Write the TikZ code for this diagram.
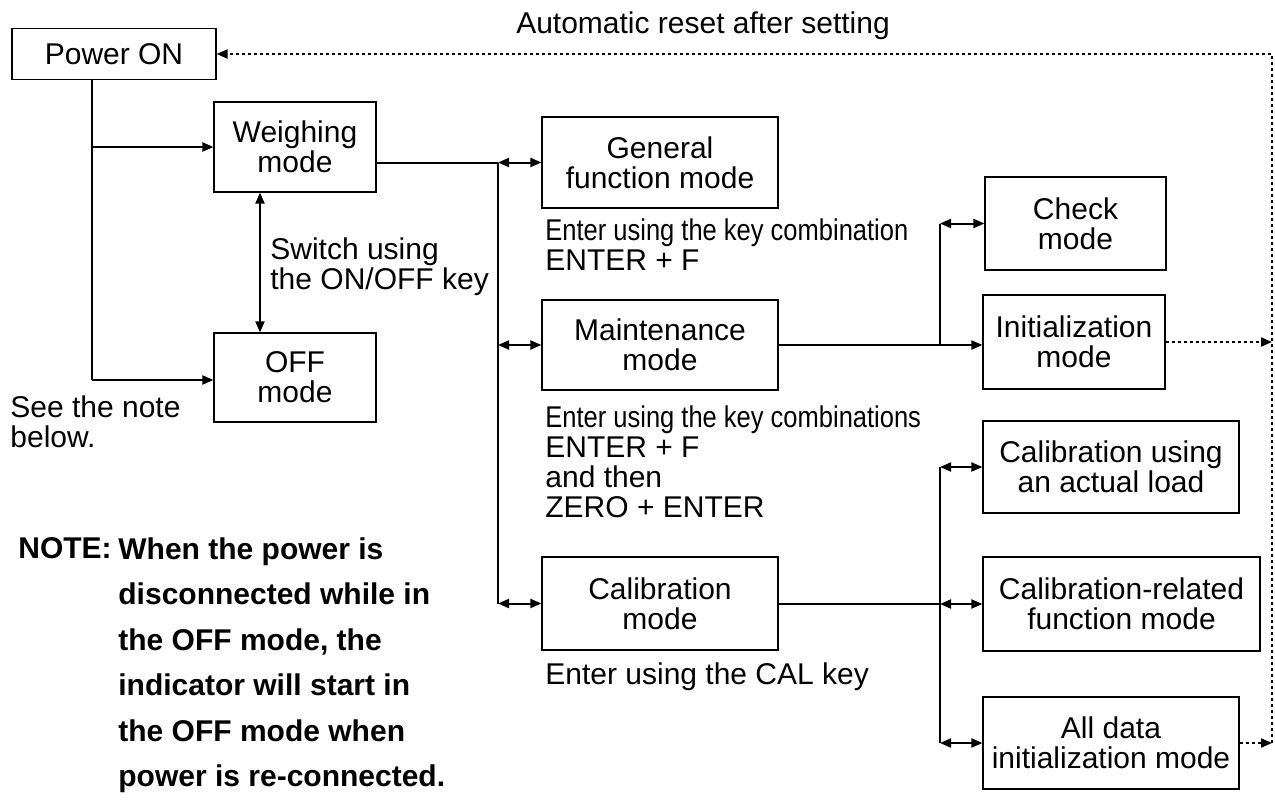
\documentclass[tikz,border=0pt]{standalone}
\usepackage{fontspec}
\setmainfont{Liberation Sans}
\usepackage{graphicx}
\usetikzlibrary{arrows.meta}

\newcommand{\squeezed}[1]{\scalebox{0.85}[1]{#1}}

\tikzset{
    box/.style={draw, line width=0.6pt, inner sep=0pt, align=center},
    remark/.style={inner sep=0pt, align=left, anchor=north west},
    conn/.style={line width=1pt},
    branch/.style={line width=0.6pt},
    reset/.style={line width=1pt, dash pattern=on 1.6pt off 1.4pt},
    notefont/.style={font=\fontsize{15}{22.75}\selectfont\bfseries}
}

\begin{document}
\begin{tikzpicture}[x=0.5pt,y=-0.5pt,>={Triangle[length=5.5pt,width=4.5pt]},
    font=\fontsize{15}{15}\selectfont]
    \useasboundingbox (0,0) rectangle (1275,803);

    % mode boxes
    \node[box, minimum width=102pt, minimum height=25.5pt] (pwr) at (114,54) {Power ON};
    \node[box, minimum width=81pt, minimum height=45pt] (weigh) at (295,147) {Weighing\\mode};
    \node[box, minimum width=81pt, minimum height=44.5pt] (off) at (295,377.5) {OFF\\mode};
    \node[box, minimum width=118pt, minimum height=45.5pt] (gen) at (660,162.5) {General\\function mode};
    \node[box, minimum width=118pt, minimum height=45pt] (maint) at (660,345) {Maintenance\\mode};
    \node[box, minimum width=118pt, minimum height=46.5pt] (calib) at (660,603.5) {Calibration\\mode};
    \node[box, minimum width=90.5pt, minimum height=46.5pt] (check) at (1075.5,223.5) {Check\\mode};
    \node[box, minimum width=91pt, minimum height=47pt] (init) at (1074,342) {Initialization\\mode};
    \node[box, minimum width=128pt, minimum height=46pt] (calload) at (1111,467) {Calibration using\\an actual load};
    \node[box, minimum width=138.5pt, minimum height=47pt] (calfunc) at (1121.5,604) {Calibration-related\\function mode};
    \node[box, minimum width=128pt, minimum height=46pt] (alldata) at (1111,743) {All data\\initialization mode};

    % junctions
    \coordinate (trunk) at (92,380);
    \coordinate (sw) at (260,260);
    \coordinate (bus) at (498,162.5);
    \coordinate (mbus) at (940,345);
    \coordinate (cbus) at (940,603.5);
    \coordinate (rr) at (1272,54);

    % power on -> weighing / off
    \draw[conn] (pwr.south -| trunk) -- (trunk);
    \draw[conn,->] (trunk |- weigh.west) -- (weigh.west);
    \draw[conn,->] (trunk) -- (off.west |- trunk);
    \draw[conn,<->] (weigh.south -| sw) -- (off.north -| sw);

    % weighing -> function modes
    \draw[conn] (weigh.east |- bus) -- (bus);
    \draw[branch] (bus) -- (bus |- calib.west);
    \draw[conn,<->] (bus) -- (gen.west);
    \draw[conn,<->] (bus |- maint.west) -- (maint.west);
    \draw[conn,<->] (bus |- calib.west) -- (calib.west);

    % maintenance
    \draw[conn,->] (maint.east) -- (init.west |- maint.east);
    \draw[branch] (mbus) -- (mbus |- check.west);
    \draw[conn,<->] (mbus |- check.west) -- (check.west);

    % calibration
    \draw[conn] (calib.east) -- (cbus);
    \draw[branch] (cbus |- calload.west) -- (cbus |- alldata.west);
    \draw[conn,<->] (cbus |- calload.west) -- (calload.west);
    \draw[conn,<->] (cbus |- calfunc.west) -- (calfunc.west);
    \draw[conn,<->] (cbus |- alldata.west) -- (alldata.west);

    % automatic reset
    \draw[reset,->] (rr |- alldata.east) -- (rr) -- (pwr.east);
    \draw[reset,->] (init.east) -- (init.east -| rr);
    \draw[reset,->] (alldata.east) -- (alldata.east -| rr);

    % texts
    \node (resettxt) at (703,26) {Automatic reset after setting};
    \node[remark] (swtxt) at (270,237) {Switch using\\the ON/OFF key};
    \node[remark] (gentxt) at (545,218) {\squeezed{Enter using the key combination}\\ENTER + F};
    \node[remark] (mainttxt) at (545,405) {\squeezed{Enter using the key combinations}\\ENTER + F\\and then\\ZERO + ENTER};
    \node[remark] (caltxt) at (545,662) {Enter using the CAL key};
    \node[remark] (seetxt) at (10,395) {See the note\\below.};
    \node[remark, notefont] (notehd) at (18,537) {NOTE:};
    \node[remark, notefont] (notetxt) at (118,537) {When the power is\\disconnected while in\\the OFF mode, the\\indicator will start in\\the OFF mode when\\power is re-connected.};
\end{tikzpicture}
\end{document}
